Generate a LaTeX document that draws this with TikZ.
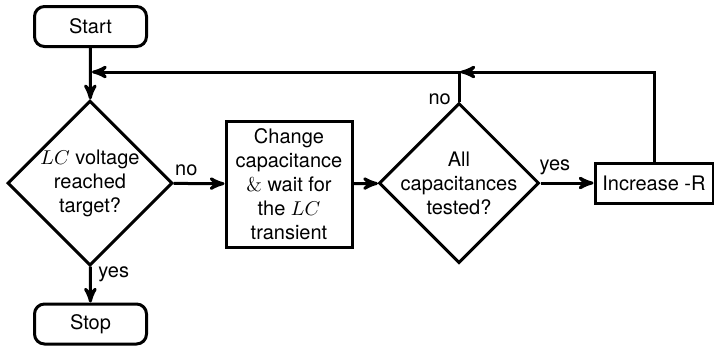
\documentclass[tikz,border=0pt]{standalone}
\usepackage{fontspec}
\setmainfont{TeX Gyre Heros}
\usepackage{tikz}
\usetikzlibrary{shapes,arrows,positioning,calc}
\tikzset{
    terminal/.style={draw, line width=1.5pt, rounded corners=5pt, minimum width=56pt, minimum height=20pt},
    process/.style={draw, line width=1.5pt, align=center, inner sep=2pt},
    decision/.style={draw, line width=1.5pt, diamond, aspect=1, align=center, inner sep=-3pt},
    flow/.style={line width=1.5pt, ->, >=stealth'},
    link/.style={line width=1.5pt},
}
\newcommand{\serifamp}{{\fontfamily{lmr}\selectfont\&}}

\begin{document}
\begin{tikzpicture}[x=0.5pt, y=-0.5pt]
    \useasboundingbox (0,0) rectangle (714,345);

    % Start / stop
    \node[terminal] (start) at (90.5,26.5) {Start};
    \node[terminal] (stop) at (90.5,324) {Stop};

    % Decisions
    \node[decision, minimum size=82.5pt] (reach) at (90,183) {$LC$ voltage\\reached\\target?};
    \node[decision, minimum size=80pt] (tested) at (459,183) {All\\capacitances\\tested?};

    % Processes
    \node[process, minimum width=63pt, minimum height=63pt] (change) at (289,184)
        {Change\\capacitance\\\serifamp{} wait for\\the $LC$\\transient};
    \node[process, minimum width=59pt, minimum height=20pt] (incr) at (654,183) {Increase -R};

    % Loop back line
    \coordinate (merge) at (start.south |- 0,72);
    \coordinate (loop) at (tested.north |- merge);

    % Connections
    \draw[flow] (start) -- (reach);
    \draw[flow] (reach) -- (change) node[pos=0.25, above] {no};
    \draw[flow] (reach) -- (stop) node[pos=0.2, right] {yes};
    \draw[flow] (change) -- (tested);
    \draw[flow] (tested) -- (incr) node[pos=0.27, above] {yes};
    \draw[flow, shorten >=0.75pt] (tested.north) -- (loop) node[pos=0.06, left] {no} -- (merge);
    \draw[flow, shorten >=0.75pt] (incr.north) |- (loop);
\end{tikzpicture}
\end{document}
